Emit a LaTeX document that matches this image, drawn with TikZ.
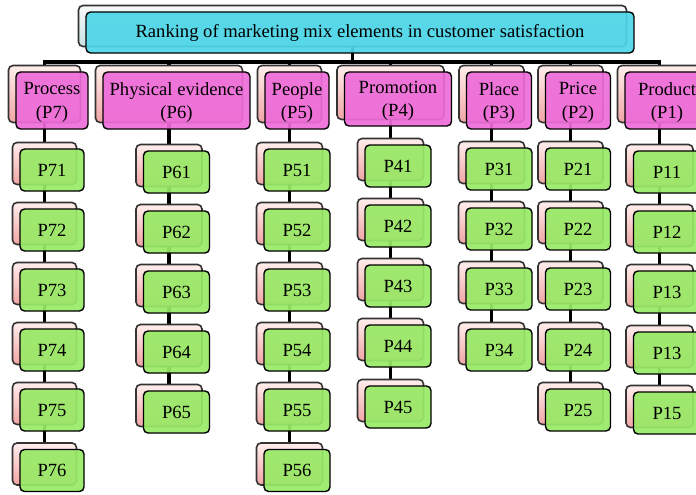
\documentclass[tikz,border=0pt]{standalone}
\usepackage{fontspec}
\setmainfont{Liberation Serif}
\usetikzlibrary{backgrounds}

\definecolor{titlefill}{RGB}{77,214,232}
\definecolor{catfill}{RGB}{238,108,218}
\definecolor{itemfill}{RGB}{152,234,102}
\definecolor{backtop}{RGB}{255,238,236}
\definecolor{backbot}{RGB}{240,165,165}
\definecolor{greytop}{RGB}{248,250,250}
\definecolor{greybot}{RGB}{200,224,228}

\tikzset{
  basebox/.style={rounded corners=4.5pt, inner sep=0pt, align=center,
    font=\fontsize{18.6}{23.5}\selectfont},
  frontbox/.style={basebox, draw=black, line width=1.4pt, fill opacity=0.92, text opacity=1},
  backbox/.style={basebox, draw=black!80, line width=1.6pt, top color=backtop, bottom color=backbot},
  titleback/.style={basebox, draw=black!80, line width=1.6pt, top color=greytop, bottom color=greybot},
  titlebox/.style={frontbox, fill=titlefill},
  catbox/.style={frontbox, fill=catfill},
  itembox/.style={frontbox, fill=itemfill},
  cattext/.style={basebox},
  conn/.style={draw=black, line width=3.1pt},
  titlebox back/.style={titleback},
  catbox back/.style={backbox},
  itembox back/.style={backbox},
}

% a front box with its offset shadow copy behind it
% #1 name, #2 x, #3 y, #4 width, #5 height, #6 front style, #7 text
\newcommand\layered[7]{%
  \node[#6 back, minimum width=#4pt, minimum height=#5pt] (#1b) at (#2-7.5,#3-6.5) {};
  \node[#6, minimum width=#4pt, minimum height=#5pt] (#1) at (#2,#3) {#7};
}

% a category box whose two-line caption sits slightly low
% #1 name, #2 x, #3 y, #4 width, #5 height, #6 caption
\newcommand\category[6]{%
  \layered{#1}{#2}{#3}{#4}{#5}{catbox}{}
  \node[cattext] (#1t) at ([yshift=-2pt]#1.center) {#6};
}

% a column of items under a category
% #1 prefix, #2 x, #3 width, #4 list of digit/y
\newcommand\itemcolumn[4]{%
  \foreach \d/\yy in {#4} {
    \layered{#1\d}{#2}{\yy}{#3}{42}{itembox}{#1\d}
  }
}

\begin{document}
\begin{tikzpicture}[x=1pt,y=-1pt]
\useasboundingbox (0,0) rectangle (696,495);

% title
\layered{title}{360}{32.5}{548}{41}{titlebox}{Ranking of marketing mix elements in customer satisfaction}

% categories
\category{c7}{52}{100.5}{72}{57}{Process\\(P7)}
\category{c6}{176.5}{100.5}{147}{57}{Physical evidence\\(P6)}
\category{c5}{297}{100.5}{64}{57}{People\\(P5)}
\category{c4}{398}{99}{107}{54}{Promotion\\(P4)}
\category{c3}{499}{100.5}{65}{57}{Place\\(P3)}
\category{c2}{578}{100.5}{65}{57}{Price\\(P2)}
\category{c1}{667}{100.5}{84}{57}{Product\\(P1)}

% items
\itemcolumn{P7}{52}{64}{1/170,2/230,3/290,4/350,5/410,6/470.5}
\itemcolumn{P6}{176.5}{66}{1/172,2/232,3/292,4/352,5/412}
\itemcolumn{P5}{297}{66}{1/170,2/230,3/290,4/350,5/410,6/470.5}
\itemcolumn{P4}{398}{66}{1/166,2/226,3/286,4/346,5/407}
\itemcolumn{P3}{499}{66}{1/169,2/229,3/289,4/350}
\itemcolumn{P2}{578}{65}{1/169,2/229,3/289,4/350,5/410}
% the Product column repeats the label P13
\layered{Q1}{667}{172}{67}{42}{itembox}{P11}
\layered{Q2}{667}{232}{67}{42}{itembox}{P12}
\layered{Q3}{667}{292}{67}{42}{itembox}{P13}
\layered{Q4}{667}{353}{67}{42}{itembox}{P13}
\layered{Q5}{667}{413}{67}{42}{itembox}{P15}

% connectors, drawn behind every box
\coordinate (bus) at (titleb.center |- 0,62);
\begin{scope}[on background layer]
  \draw[conn] (titleb) -- (bus);
  \foreach \c in {c7,c6,c5,c4,c3,c2,c1}
    \draw[conn] (bus) -| (\c b);
  \draw[conn] (c7b) -- (P71b) -- (P72b) -- (P73b) -- (P74b) -- (P75b) -- (P76b);
  \draw[conn] (c6b) -- (P61b) -- (P62b) -- (P63b) -- (P64b) -- (P65b);
  \draw[conn] (c5b) -- (P51b) -- (P52b) -- (P53b) -- (P54b) -- (P55b) -- (P56b);
  \draw[conn] (c4b) -- (P41b) -- (P42b) -- (P43b) -- (P44b) -- (P45b);
  \draw[conn] (c3b) -- (P31b) -- (P32b) -- (P33b) -- (P34b);
  \draw[conn] (c2b) -- (P21b) -- (P22b) -- (P23b) -- (P24b) -- (P25b);
  \draw[conn] (c1b) -- (Q1b) -- (Q2b) -- (Q3b) -- (Q4b) -- (Q5b);
\end{scope}
\end{tikzpicture}
\end{document}
